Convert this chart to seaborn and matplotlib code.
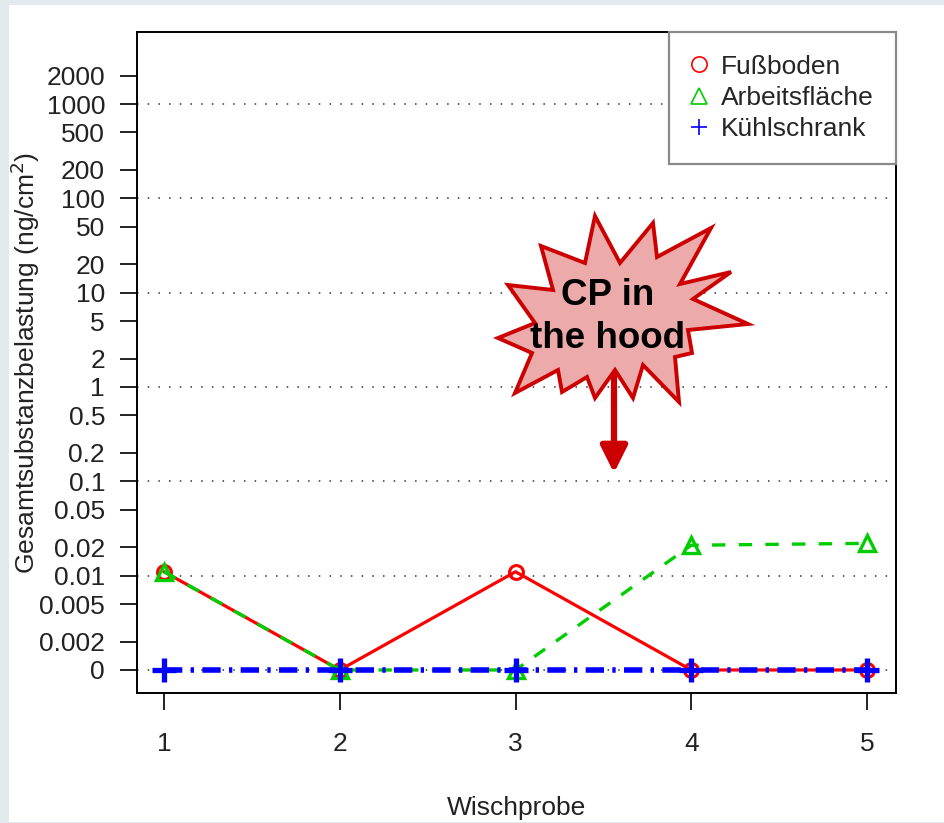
import numpy as np
import pandas as pd
import matplotlib
matplotlib.use("Agg")
import matplotlib.pyplot as plt
from matplotlib.patches import Polygon, Rectangle
from matplotlib.lines import Line2D
import seaborn as sns

# ---- data ----
samples = [1, 2, 3, 4, 5]
fussboden = [0.011, 0, 0.011, 0, 0]
arbeitsflaeche = [0.011, 0, 0, 0.021, 0.022]
kuehlschrank = [0, 0, 0, 0, 0]
series_names = ["Fußboden", "Arbeitsfläche", "Kühlschrank"]
zero_floor = 0.001  # zero values are shown at this level, labelled "0"
y_ticks = [0.001, 0.002, 0.005, 0.01, 0.02, 0.05, 0.1, 0.2, 0.5, 1, 2, 5,
           10, 20, 50, 100, 200, 500, 1000, 2000]
y_ticklabels = ["0", "0.002", "0.005", "0.01", "0.02", "0.05", "0.1", "0.2",
                "0.5", "1", "2", "5", "10", "20", "50", "100", "200", "500",
                "1000", "2000"]
grid_levels = [0.001, 0.01, 0.1, 1, 10, 100, 1000]
x_label = "Wischprobe"
y_label = "Gesamtsubstanzbelastung (ng/cm$^2$)"
callout = "CP in\nthe hood"

sns.set_style("ticks")
plt.rcParams["font.family"] = ["Liberation Sans", "DejaVu Sans"]

FS = 19
W, H = 944, 823
fig = plt.figure(figsize=(W / 100, H / 100), dpi=100, facecolor="#e3eaee")
fig.patches.append(Rectangle((9 / W, 1 / H), 1 - 9 / W, (822 - 5) / H,
                             transform=fig.transFigure, facecolor="white",
                             edgecolor="none", zorder=-10))
ax = fig.add_axes([137 / W, 1 - 693 / H, (896 - 137) / W, (693 - 32) / H])
ax.set_facecolor("white")

df = pd.DataFrame({
    "Wischprobe": samples * 3,
    "Wert": fussboden + arbeitsflaeche + kuehlschrank,
    "Serie": np.repeat(series_names, len(samples)),
})
df["plot"] = df["Wert"].clip(lower=zero_floor)

styles = {
    "Fußboden": dict(color="#ff0000", marker="o", linestyle="-", lw=2.3,
                     ms=10, mew=2.2),
    "Arbeitsfläche": dict(color="#00cd00", marker="^", linestyle=(0, (4, 4)),
                          lw=2.4, ms=12, mew=2.4),
    "Kühlschrank": dict(color="#0000ff", marker="+", linestyle=(0, (3.3, 1.5, 0.6, 1.5)),
                        lw=4.0, ms=17, mew=3.8),
}
for i, name in enumerate(series_names):
    s = styles[name]
    sub = df[df["Serie"] == name]
    sns.lineplot(data=sub, x="Wischprobe", y="plot", ax=ax, color=s["color"],
                 linestyle=s["linestyle"], linewidth=s["lw"], marker=s["marker"],
                 markersize=s["ms"], markeredgewidth=s["mew"],
                 markeredgecolor=s["color"], markerfacecolor="none",
                 legend=False, zorder=3 + i)

ax.set_yscale("log")
ax.set_ylim(0.00057, 5800)
ax.set_xlim(0.846, 5.165)
ax.set_yticks(y_ticks)
ax.set_yticklabels(y_ticklabels)
ax.yaxis.set_minor_locator(matplotlib.ticker.NullLocator())
ax.set_xticks(samples)
ax.set_xticklabels([str(s) for s in samples])
for g in grid_levels:
    ax.axhline(g, color="#333333", lw=1.1, linestyle=(0, (1, 6)), zorder=1)

for sp in ax.spines.values():
    sp.set_linewidth(1.4)
    sp.set_color("black")
ax.tick_params(axis="both", length=12, width=1.4, color="#222222",
               labelsize=FS, labelcolor="#222222")
ax.tick_params(axis="y", pad=11)
ax.tick_params(axis="x", pad=16)

ax.set_xlabel(x_label, fontsize=FS, color="#222222")
ax.set_ylabel(y_label, fontsize=FS, color="#222222")
ax.xaxis.set_label_coords(0.5, -0.156)
ax.yaxis.set_label_coords(-0.125, 0.5)

handles = [Line2D([], [], linestyle="none", marker=styles[n]["marker"],
                  markersize=11, markeredgewidth=1.2,
                  markeredgecolor=styles[n]["color"], markerfacecolor="none")
           for n in series_names]
leg = ax.legend(handles, series_names, loc="upper right", borderaxespad=0,
                fontsize=FS, frameon=True, fancybox=False,
                labelspacing=0.28, handlelength=0.55, handletextpad=0.55,
                borderpad=0.86)
leg.get_frame().set_edgecolor("#8a8a8a")
leg.get_frame().set_linewidth(1.6)
leg.get_frame().set_alpha(1)
leg.set_zorder(10)

# ---- callout starburst (annotation, in figure pixels) ----
star_px = [(595, 216), (620, 263), (653, 223), (657, 257), (711, 228),
           (680, 284), (731, 272), (693, 299), (748, 324), (688, 330),
           (692, 353), (675, 357), (679, 402), (643, 365), (633, 398),
           (615, 370), (595, 398), (587, 377), (562, 392), (558, 370),
           (515, 393), (532, 353), (498, 338), (535, 323), (508, 285),
           (553, 290), (541, 246), (585, 263)]
star = Polygon([(x / W, 1 - y / H) for x, y in star_px], closed=True,
               transform=fig.transFigure, facecolor="#ecaaaa",
               edgecolor="#cc0000", lw=2.8, joinstyle="miter", zorder=20)
fig.patches.append(star)
fig.text(608 / W, 1 - 317 / H, callout, ha="center", va="center",
         fontsize=26.5, fontweight="bold", color="black", linespacing=1.3,
         zorder=21)
ax.annotate("", xy=(614 / W, 1 - 473 / H), xytext=(614 / W, 1 - 367 / H),
            xycoords="figure fraction", textcoords="figure fraction",
            arrowprops=dict(arrowstyle="-|>,head_length=0.4,head_width=0.2",
                            color="#cc0000", lw=4.5, mutation_scale=40,
                            shrinkA=0, shrinkB=0), zorder=22)

fig.savefig("out.png", dpi=100, facecolor=fig.get_facecolor())
